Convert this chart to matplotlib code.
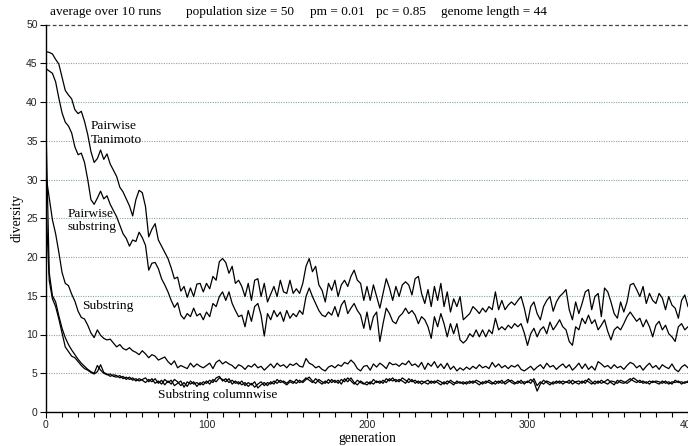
import numpy as np
import matplotlib
matplotlib.use("Agg")
import matplotlib.pyplot as plt
from matplotlib.ticker import MultipleLocator

# ---- data (values every 2 generations, 0..400) ----
pairwise_tanimoto = [
    46.5, 46.4, 46.2, 45.5, 44.9, 43.2, 41.5, 40.9, 40.4, 39.0,
    38.5, 38.8, 37.5, 35.8, 33.6, 32.2, 32.7, 33.8, 32.6, 33.3,
    32.0, 31.2, 30.4, 29.0, 28.4, 27.5, 26.6, 25.3, 27.4, 28.6,
    28.3, 26.5, 22.6, 23.6, 24.3, 22.2, 21.4, 20.6, 19.8, 18.6,
    17.2, 17.4, 15.6, 16.2, 14.8, 16.0, 14.9, 16.5, 16.6, 15.5,
    16.6, 15.9, 17.5, 17.0, 19.4, 19.8, 19.3, 17.9, 18.8, 16.6,
    17.0, 16.2, 14.9, 16.6, 14.4, 17.0, 17.2, 14.9, 16.6, 14.2,
    15.2, 16.2, 14.9, 17.0, 15.5, 15.3, 17.0, 15.3, 15.9, 15.3,
    16.6, 18.8, 19.8, 18.1, 18.8, 16.4, 15.7, 14.2, 16.6, 15.7,
    17.0, 14.9, 16.4, 17.0, 16.2, 17.5, 18.3, 17.0, 16.6, 14.4,
    16.2, 14.4, 16.4, 14.9, 13.4, 15.3, 17.2, 16.0, 14.4, 16.2,
    14.9, 16.4, 16.8, 16.4, 15.1, 17.2, 17.5, 15.3, 14.0, 15.8,
    13.6, 16.2, 14.4, 16.6, 13.6, 15.5, 12.9, 14.6, 13.6, 14.9,
    11.9, 12.3, 12.7, 13.6, 13.2, 12.7, 13.4, 12.9, 13.6, 13.2,
    15.5, 13.2, 14.4, 13.2, 13.8, 14.2, 13.8, 14.4, 14.9, 13.4,
    11.5, 13.6, 14.2, 12.7, 11.9, 13.6, 14.4, 14.9, 13.0, 14.2,
    14.9, 15.3, 15.8, 13.2, 11.9, 14.2, 12.7, 14.0, 15.5, 15.8,
    13.2, 14.9, 15.3, 12.3, 16.0, 15.5, 14.2, 12.7, 12.1, 14.2,
    12.9, 14.2, 16.4, 16.6, 15.8, 14.9, 16.2, 14.0, 15.3, 14.4,
    14.0, 15.3, 14.7, 13.2, 14.9, 13.8, 13.4, 12.1, 14.4, 15.1,
    13.6]

pairwise_substring = [
    44.3, 44.0, 43.7, 42.6, 40.5, 38.6, 37.4, 36.9, 36.0, 34.2,
    33.2, 33.4, 32.2, 30.0, 27.4, 26.8, 27.6, 28.5, 27.5, 27.9,
    26.8, 26.0, 25.2, 24.1, 23.0, 22.4, 21.4, 22.2, 22.0, 23.2,
    22.5, 21.5, 18.3, 19.2, 19.3, 18.5, 17.2, 16.4, 15.5, 14.4,
    13.5, 14.1, 12.5, 12.0, 12.7, 12.3, 13.4, 12.4, 12.7, 11.9,
    12.9, 12.3, 14.0, 13.6, 14.9, 15.5, 14.4, 15.5, 14.0, 13.1,
    12.3, 12.5, 11.0, 13.1, 11.7, 13.6, 14.0, 12.5, 9.8, 12.7,
    11.9, 13.1, 12.3, 12.9, 11.7, 13.1, 12.1, 12.7, 12.3, 13.1,
    12.6, 14.9, 16.0, 14.9, 14.0, 13.1, 12.5, 12.3, 12.9, 12.5,
    13.6, 12.3, 13.8, 14.4, 12.7, 13.4, 14.0, 13.1, 12.5, 10.8,
    12.9, 10.6, 12.3, 12.9, 9.1, 11.4, 13.4, 12.7, 11.7, 11.4,
    12.3, 12.7, 13.4, 12.7, 13.1, 12.5, 11.4, 12.3, 11.9, 11.0,
    9.5, 12.3, 11.0, 12.7, 11.4, 9.7, 11.4, 10.1, 11.4, 9.3,
    8.9, 9.3, 10.1, 9.7, 10.6, 9.7, 10.6, 9.7, 10.6, 10.1,
    12.1, 10.6, 11.0, 10.6, 11.2, 10.8, 11.4, 11.0, 11.4, 10.2,
    8.6, 10.1, 10.8, 9.7, 10.6, 11.0, 10.1, 11.6, 10.6, 11.2,
    11.9, 11.0, 10.6, 9.1, 8.6, 11.0, 10.6, 12.1, 11.4, 12.5,
    11.4, 11.9, 10.6, 11.2, 11.9, 10.4, 9.3, 10.6, 11.0, 10.6,
    11.4, 12.3, 12.9, 12.3, 11.7, 12.1, 11.0, 11.9, 11.0, 9.7,
    11.2, 11.7, 10.6, 11.2, 10.1, 9.7, 9.1, 11.0, 11.4, 10.6,
    11.0]

substring = [
    30.5, 27.6, 24.8, 23.0, 20.6, 18.0, 16.6, 16.3, 15.2, 14.3,
    13.0, 12.2, 12.0, 11.2, 10.2, 9.6, 10.6, 9.9, 9.5, 9.3,
    9.4, 8.9, 8.4, 8.7, 8.2, 8.0, 8.3, 7.9, 7.7, 7.4,
    7.9, 7.5, 7.0, 7.4, 7.2, 6.7, 6.9, 7.1, 6.5, 6.1,
    6.6, 5.7, 6.0, 5.8, 5.6, 6.3, 5.8, 6.2, 5.9, 5.7,
    6.0, 6.3, 5.6, 6.4, 6.7, 6.2, 6.5, 6.2, 6.0, 5.6,
    6.1, 5.9, 5.5, 6.0, 5.8, 6.2, 5.7, 5.9, 5.4, 5.8,
    6.2, 5.7, 6.3, 5.9, 6.1, 5.7, 6.2, 6.0, 6.3, 5.9,
    5.8, 6.9, 6.3, 6.1, 5.7, 5.9, 5.5, 5.3, 5.8, 6.0,
    5.7, 6.1, 5.9, 6.4, 6.2, 6.7, 6.3, 5.6, 5.3, 5.9,
    6.0, 5.4, 6.2, 5.8, 6.3, 6.0, 5.6, 6.4, 6.1, 6.2,
    5.9, 6.3, 6.1, 6.6, 6.0, 6.2, 5.8, 6.4, 5.5, 6.3,
    5.9, 6.5, 5.7, 6.2, 5.6, 6.3, 5.5, 5.9, 5.3, 5.7,
    5.4, 5.8, 5.5, 5.9, 5.6, 6.1, 5.7, 5.9, 5.6, 6.4,
    5.8, 6.2, 5.7, 6.0, 5.6, 6.0, 5.8, 6.1, 5.5, 5.3,
    5.6, 5.9, 5.4, 5.8, 6.1, 5.6, 6.3, 5.8, 6.0, 5.5,
    5.9, 6.2, 5.7, 6.1, 5.4, 5.8, 6.3, 5.6, 6.2, 5.5,
    5.9, 5.4, 6.5, 6.2, 5.8, 6.0, 5.6, 6.1, 5.7, 5.9,
    5.5, 6.0, 6.4, 6.2, 5.7, 6.0, 5.4, 5.9, 6.3, 5.7,
    6.0, 5.5, 6.1, 5.8, 5.6, 6.2, 5.5, 5.2, 5.8, 6.1,
    5.7]

substring_columnwise_a = [
    36.7, 18.0, 15.0, 14.2, 12.4, 10.8, 9.6, 8.7, 8.0, 7.4,
    6.8, 6.3, 5.9, 5.5, 5.2, 5.0, 6.0, 5.4, 5.0, 4.8,
    4.9, 4.6, 4.5, 4.7, 4.3, 4.5, 4.2, 4.4, 4.0, 4.3,
    4.1, 3.8, 4.2, 3.9, 4.3, 3.7, 4.1, 3.5, 4.0, 3.6,
    4.2, 3.9, 3.4, 3.8, 3.3, 4.0, 3.6, 3.8, 3.5, 3.9,
    3.7, 4.1, 3.8, 4.4, 4.6, 4.0, 4.3, 3.8, 4.1, 3.7,
    3.9, 3.5, 3.8, 3.3, 3.7, 3.2, 3.6, 3.9, 3.4, 3.8,
    3.6, 4.0, 3.7, 4.1, 3.8, 3.5, 3.9, 3.7, 4.2, 3.8,
    4.0, 4.4, 4.1, 3.8, 4.3, 3.9, 3.6, 4.0, 3.7, 4.2,
    3.8, 4.1, 3.6, 4.3, 3.9, 4.4, 3.8, 3.5, 4.0, 3.7,
    3.5, 3.9, 3.6, 4.0, 3.7, 4.1, 3.8, 4.3, 4.0, 4.2,
    3.9, 4.4, 4.1, 3.8, 4.2, 3.7, 4.0, 3.6, 3.9, 4.1,
    3.7, 4.0, 3.8, 3.5, 3.9, 3.6, 4.1, 3.8, 3.7, 3.9,
    3.6, 3.9, 3.7, 4.0, 3.8, 3.5, 3.9, 3.7, 4.1, 3.8,
    3.6, 4.0, 3.7, 3.9, 4.2, 3.8, 3.6, 4.0, 3.7, 3.9,
    3.8, 4.2, 3.9, 2.7, 3.6, 4.1, 3.8, 3.5, 3.9, 3.7,
    4.0, 3.6, 3.9, 3.7, 4.1, 3.8, 3.6, 4.0, 3.7, 4.3,
    3.9, 3.6, 4.0, 3.7, 3.9, 4.2, 3.8, 3.5, 4.1, 3.8,
    3.7, 4.0, 4.3, 4.0, 3.8, 4.1, 3.7, 3.9, 3.6, 4.0,
    3.8, 3.6, 4.0, 3.7, 3.9, 3.6, 4.1, 3.8, 3.9, 3.7,
    4.0]

substring_columnwise_b = [
    26.7, 17.0, 14.6, 13.6, 12.0, 10.2, 8.4, 7.8, 7.2, 7.0,
    6.5, 6.0, 5.6, 5.4, 5.1, 4.9, 5.2, 6.1, 5.1, 4.9,
    4.6, 4.8, 4.7, 4.4, 4.6, 4.2, 4.5, 4.1, 4.3, 4.0,
    4.2, 4.4, 3.9, 4.3, 3.7, 4.0, 3.6, 4.2, 3.8, 4.1,
    3.4, 3.7, 4.0, 3.2, 3.9, 3.6, 3.9, 3.3, 3.8, 3.5,
    4.0, 3.6, 4.2, 3.9, 4.4, 4.2, 3.9, 4.3, 3.6, 4.0,
    3.6, 4.0, 3.4, 3.8, 3.5, 3.9, 3.1, 3.5, 3.8, 3.4,
    3.9, 3.6, 4.2, 3.8, 4.0, 3.7, 4.1, 3.9, 3.7, 4.1,
    3.8, 4.2, 4.5, 4.0, 3.7, 4.2, 3.9, 3.7, 4.2, 3.8,
    4.1, 3.7, 4.2, 3.9, 4.4, 4.0, 3.6, 4.1, 3.8, 3.6,
    3.9, 3.6, 4.2, 3.8, 4.0, 3.7, 4.3, 4.0, 4.4, 3.9,
    4.2, 4.0, 3.7, 4.3, 3.9, 4.1, 3.7, 4.0, 3.8, 3.6,
    4.0, 3.7, 4.1, 3.9, 3.6, 4.0, 3.8, 3.5, 4.0, 3.7,
    3.9, 3.6, 4.0, 3.7, 4.1, 3.9, 3.6, 4.0, 3.8, 3.6,
    4.0, 3.7, 4.1, 3.6, 3.9, 4.1, 3.8, 3.7, 4.1, 3.6,
    4.0, 3.7, 4.3, 3.4, 3.9, 3.6, 4.0, 3.8, 3.6, 4.0,
    3.7, 4.0, 3.8, 4.1, 3.6, 3.9, 4.0, 3.7, 4.1, 3.9,
    3.6, 4.0, 3.7, 4.1, 3.8, 3.6, 4.0, 3.9, 3.7, 4.1,
    3.9, 3.7, 4.0, 4.4, 4.1, 3.8, 4.0, 3.7, 4.0, 3.8,
    4.0, 3.9, 3.7, 4.0, 3.6, 3.9, 3.8, 4.0, 3.6, 3.9,
    3.8]

generation_step = 2
series = [pairwise_tanimoto, pairwise_substring, substring,
          substring_columnwise_a, substring_columnwise_b]

x_ticks = [0, 100, 200, 300, 400]
y_ticks = [0, 5, 10, 15, 20, 25, 30, 35, 40, 45, 50]

header = [("average over 10 runs", 50), ("population size = 50", 186),
          ("pm = 0.01", 310), ("pc = 0.85", 376), ("genome length = 44", 441)]

labels = [("Pairwise\nTanimoto", 28, 36.0),
          ("Pairwise\nsubstring", 13.7, 24.7),
          ("Substring", 22.4, 13.7),
          ("Substring columnwise", 69.7, 2.2)]

# ---- drawing ----
W, H = 688, 446
fig = plt.figure(figsize=(W / 100, H / 100), dpi=100)
ax = fig.add_axes([46 / W, 1 - 412 / H, (W - 46) / W, (412 - 24.5) / H])

serif = ["Liberation Serif", "DejaVu Serif"]
sans = ["Liberation Sans", "DejaVu Sans"]

for yv in y_ticks[1:-1]:
    ax.axhline(yv, color="#8fa5a5", lw=0.8, ls=(0, (1, 1.2)), zorder=1)
ax.axhline(50, color="#444444", lw=0.9, ls=(0, (3, 2)), zorder=1, clip_on=False)

for s in series:
    gens = np.arange(len(s)) * generation_step
    ax.plot(gens, s, color="black", lw=0.9, zorder=3)

ax.set_xlim(0, 400)
ax.set_ylim(0, 50)
ax.set_xticks(x_ticks)
ax.xaxis.set_minor_locator(MultipleLocator(10))
ax.set_yticks(y_ticks)
for sp in ["top", "right"]:
    ax.spines[sp].set_visible(False)
for sp in ["left", "bottom"]:
    ax.spines[sp].set_linewidth(1.0)
ax.tick_params(axis="both", which="major", length=4, width=0.8, direction="out",
               labelsize=7.5, colors="black", labelcolor="#222222", pad=2)
ax.tick_params(axis="x", which="minor", length=3.5, width=0.8, direction="out")
for lab in ax.get_xticklabels() + ax.get_yticklabels():
    lab.set_family(sans)

ax.set_xlabel("generation", family=serif, fontsize=9.8, labelpad=1)
ax.set_ylabel("diversity", family=serif, fontsize=9.8, labelpad=2)

for text, x0, y0 in labels:
    ax.text(x0, y0, text, family=serif, fontsize=9.6, ha="left", va="center",
            linespacing=1.15, zorder=4)

for text, px in header:
    fig.text(px / W, 1 - 12.5 / H, text, family=serif, fontsize=9.5,
             ha="left", va="center")

fig.savefig("out.png", dpi=100)
